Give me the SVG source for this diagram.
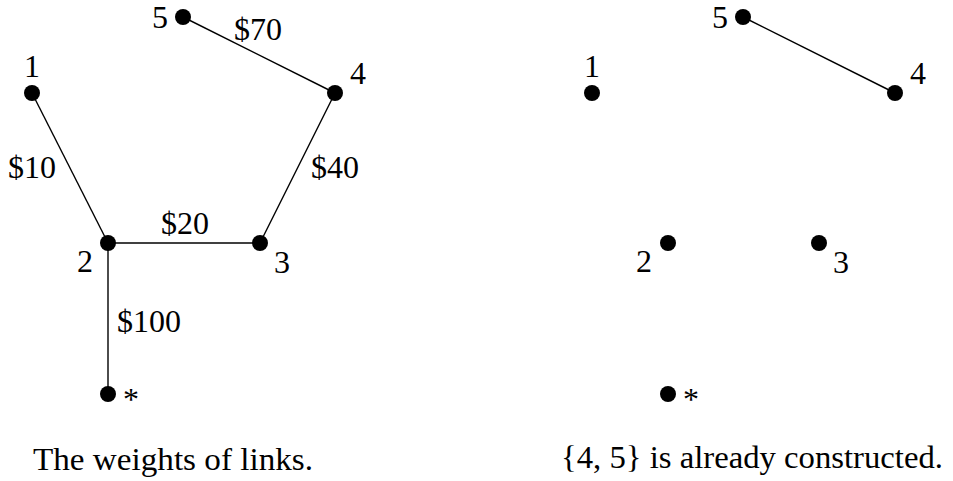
<svg xmlns="http://www.w3.org/2000/svg" width="953" height="481" viewBox="0 0 953 481">
<style>
text{font-family:'Liberation Serif','DejaVu Serif',serif;font-size:32px;fill:#000}
.n{fill:#000}
.e{stroke:#000;stroke-width:1.4;fill:none}
.m{text-anchor:middle}
</style>
<rect width="953" height="481" fill="#fff"/>
<g id="connectors">
<line class="e" x1="32" y1="93" x2="108" y2="243"/>
<line class="e" x1="108" y1="243" x2="260" y2="243"/>
<line class="e" x1="260" y1="243" x2="335" y2="93"/>
<line class="e" x1="335" y1="93" x2="183" y2="17"/>
<line class="e" x1="108" y1="243" x2="108" y2="394"/>
<line class="e" x1="895" y1="93" x2="743" y2="17"/>
<text class="m" x="258" y="40">$70</text>
<text class="m" x="32" y="178">$10</text>
<text class="m" x="335" y="178">$40</text>
<text class="m" x="185" y="234">$20</text>
<text x="117" y="332">$100</text>
</g>
<g id="L1"><circle class="n" cx="32" cy="93" r="8"/><text class="m" x="32" y="77">1</text></g>
<g id="L2"><circle class="n" cx="108" cy="243" r="8"/><text class="m" x="85" y="272">2</text></g>
<g id="L3"><circle class="n" cx="260" cy="243" r="8"/><text class="m" x="282" y="273">3</text></g>
<g id="L4"><circle class="n" cx="335" cy="93" r="8"/><text class="m" x="358" y="84">4</text></g>
<g id="L5"><circle class="n" cx="183" cy="17" r="8"/><text class="m" x="160" y="28">5</text></g>
<g id="Lstar"><circle class="n" cx="108" cy="394" r="8"/><text x="123" y="410">*</text></g>
<g id="R1"><circle class="n" cx="592" cy="93" r="8"/><text class="m" x="592" y="77">1</text></g>
<g id="R2"><circle class="n" cx="668" cy="243" r="8"/><text class="m" x="644" y="272">2</text></g>
<g id="R3"><circle class="n" cx="819" cy="243" r="8"/><text class="m" x="841" y="273">3</text></g>
<g id="R4"><circle class="n" cx="895" cy="93" r="8"/><text class="m" x="918" y="84">4</text></g>
<g id="R5"><circle class="n" cx="743" cy="17" r="8"/><text class="m" x="720" y="28">5</text></g>
<g id="Rstar"><circle class="n" cx="668" cy="394" r="8"/><text x="683" y="410">*</text></g>
<text x="33" y="470" textLength="280" lengthAdjust="spacingAndGlyphs">The weights of links.</text>
<text x="561" y="468" textLength="382" lengthAdjust="spacingAndGlyphs">{4, 5} is already constructed.</text>
</svg>
